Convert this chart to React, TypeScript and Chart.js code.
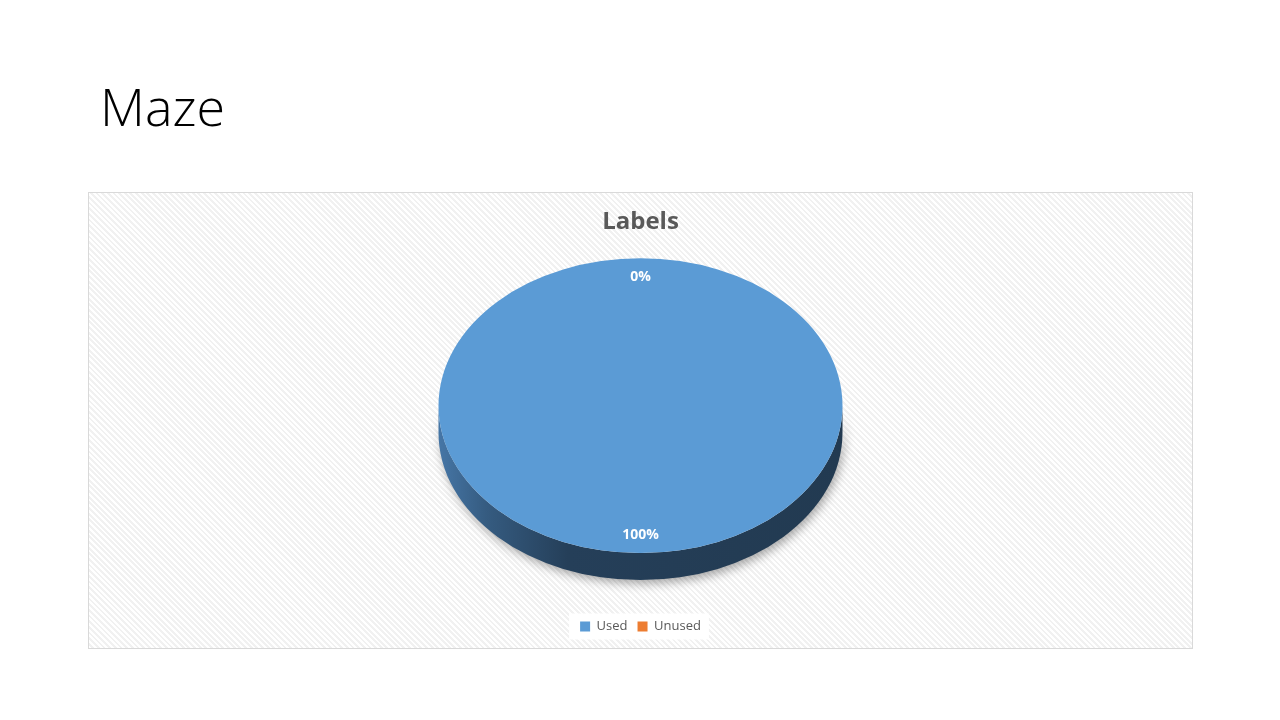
import React, { useEffect, useRef } from "react";
import { Chart, registerables } from "chart.js";

Chart.register(...registerables);

const slideTitle = "Maze";
const chartTitle = "Labels";
const categories = ["Used", "Unused"];
const values = [100, 0];
const sliceColors = ["#5B9BD5", "#ED7D31"];

const TILT = 0.73;
const DEPTH = 27;
const LABEL_POS = 0.875;

const tiltPlugin = {
  id: "tilt3d",
  beforeDatasetsDraw(chart: any) {
    const meta = chart.getDatasetMeta(0);
    const arc = meta.data[0];
    if (!arc) return;
    const { x, y, outerRadius } = arc.getProps(["x", "y", "outerRadius"], true);
    const ctx = chart.ctx as CanvasRenderingContext2D;
    const ry = outerRadius * TILT;
    ctx.save();
    ctx.beginPath();
    ctx.ellipse(x, y + DEPTH, outerRadius, ry, 0, 0, Math.PI);
    ctx.lineTo(x - outerRadius, y);
    ctx.ellipse(x, y, outerRadius, ry, 0, Math.PI, 0, true);
    ctx.closePath();
    const g = ctx.createLinearGradient(x - outerRadius, 0, x + outerRadius, 0);
    g.addColorStop(0, "#4676a6");
    g.addColorStop(0.12, "#355b80");
    g.addColorStop(0.32, "#253f59");
    g.addColorStop(1, "#223a51");
    ctx.shadowColor = "rgba(0,0,0,0.33)";
    ctx.shadowBlur = 10;
    ctx.shadowOffsetX = 2;
    ctx.shadowOffsetY = 4;
    ctx.fillStyle = g;
    ctx.fill();
    ctx.restore();
    ctx.save();
    ctx.translate(x, y);
    ctx.scale(1, TILT);
    ctx.translate(-x, -y);
  },
  afterDatasetsDraw(chart: any) {
    const ctx = chart.ctx as CanvasRenderingContext2D;
    ctx.restore();
    const meta = chart.getDatasetMeta(0);
    const data = chart.data.datasets[0].data as number[];
    const total = data.reduce((a, b) => a + b, 0);
    ctx.save();
    ctx.fillStyle = "#ffffff";
    ctx.font = "bold 14px 'Open Sans', sans-serif";
    ctx.textAlign = "center";
    ctx.textBaseline = "middle";
    meta.data.forEach((el: any, i: number) => {
      const { x, y, startAngle, endAngle, outerRadius } = el.getProps(
        ["x", "y", "startAngle", "endAngle", "outerRadius"],
        true
      );
      const mid = (startAngle + endAngle) / 2;
      const lx = x + Math.cos(mid) * outerRadius * LABEL_POS;
      const ly = y + Math.sin(mid) * outerRadius * LABEL_POS * TILT;
      const pct = Math.round((data[i] / total) * 100) + "%";
      ctx.fillText(pct, lx, ly);
    });
    ctx.restore();
  },
};

const legendBgPlugin = {
  id: "legendBg",
  beforeDraw(chart: any) {
    const lg = chart.legend;
    if (!lg || !lg.legendHitBoxes || !lg.legendHitBoxes.length) return;
    const hb = lg.legendHitBoxes;
    const left = Math.min(...hb.map((h: any) => h.left)) - 11;
    const right = Math.max(...hb.map((h: any) => h.left + h.width)) + 8;
    const mid = hb[0].top + hb[0].height / 2;
    const ctx = chart.ctx as CanvasRenderingContext2D;
    ctx.save();
    ctx.fillStyle = "#ffffff";
    ctx.fillRect(left, mid - 13, right - left, 26);
    ctx.restore();
  },
};

export default function App() {
  const canvasRef = useRef<HTMLCanvasElement | null>(null);

  useEffect(() => {
    if (!canvasRef.current) return;
    Chart.defaults.font.family = "'Open Sans', sans-serif";
    const chart = new Chart(canvasRef.current, {
      type: "pie",
      data: {
        labels: categories,
        datasets: [
          {
            data: values,
            backgroundColor: sliceColors,
            borderWidth: 0,
            radius: 202,
            clip: false,
          } as any,
        ],
      },
      options: {
        animation: false,
        responsive: true,
        maintainAspectRatio: false,
        events: [],
        layout: { padding: { top: 0, bottom: 5, left: 0, right: 0 } },
        plugins: {
          tooltip: { enabled: false },
          title: {
            display: true,
            text: chartTitle,
            color: "#595959",
            font: { size: 24, weight: "bold" },
            padding: { top: 15, bottom: 0 },
          },
          legend: {
            display: true,
            position: "bottom",
            title: {
              display: true,
              text: "",
              padding: { top: 0, bottom: 11.5 },
              font: { size: 20 },
            },
            labels: {
              color: "#595959",
              font: { size: 13 },
              boxWidth: 10,
              boxHeight: 10,
              padding: 10,
            },
          },
        },
      },
      plugins: [legendBgPlugin, tiltPlugin],
    });
    return () => chart.destroy();
  }, []);

  return (
    <div>
      <div
        style={{
          position: "absolute",
          left: 100,
          top: 80,
          fontFamily: "'Open Sans', sans-serif",
          fontWeight: 300,
          fontSize: 52,
          lineHeight: 1,
          color: "#000",
          whiteSpace: "nowrap",
        }}
      >
        {slideTitle}
      </div>
      <div
        style={{
          position: "absolute",
          left: 88,
          top: 192,
          width: 1105,
          height: 457,
          boxSizing: "border-box",
          border: "1px solid #d9d9d9",
          background:
            "repeating-linear-gradient(45deg, #ffffff 0px, #ffffff 2px, #f1f1f1 2px, #f1f1f1 4px)",
        }}
      >
        <div style={{ position: "relative", width: 1103, height: 455 }}>
          <canvas ref={canvasRef} />
        </div>
      </div>
    </div>
  );
}
